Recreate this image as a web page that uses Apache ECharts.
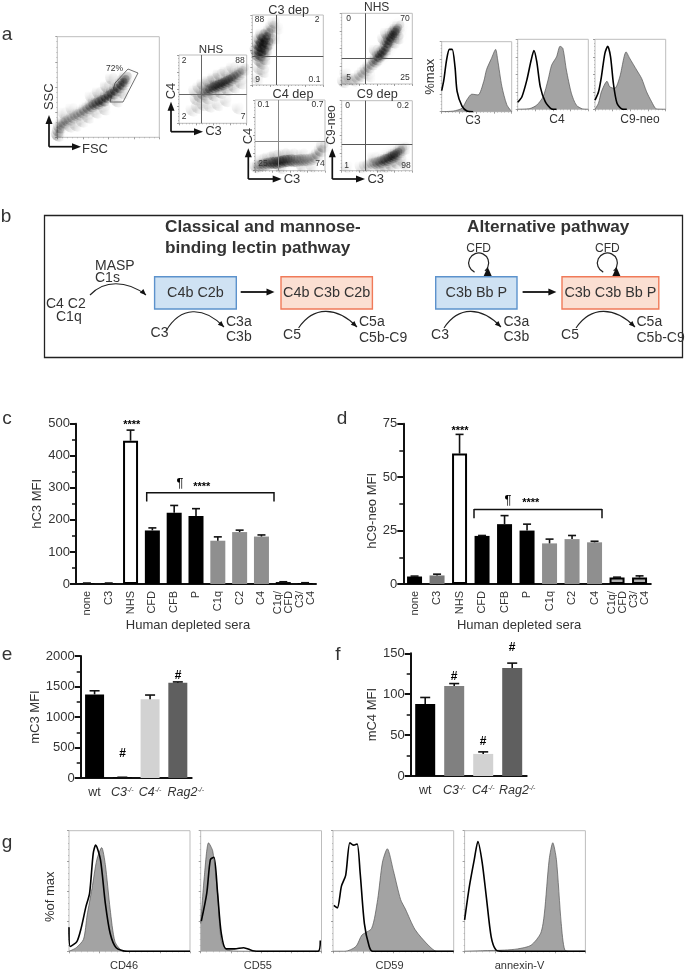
<!DOCTYPE html>
<html><head><meta charset="utf-8">
<style>html,body{margin:0;padding:0;background:#fff}#c{width:685px;height:972px}</style>
<script src="https://cdn.jsdelivr.net/npm/echarts@6/dist/echarts.min.js"></script></head>
<body><div id="c"></div>
<script>
// ---------- DATA ----------
const seraCats = ['none','C3','NHS','CFD','CFB','P','C1q','C2','C4','C1q/\nCFD','C3/\nC4'];
const hC3Values = [2,2,447,167,222,212,135,162,148,6,3];
const hC3Tops   = [3,3,480,175,245,235,147,168,153,7,4];
const hC9Values = [3.5,4,61,22.5,28,25,19,21,19.5,3,3];
const hC9Tops   = [3.7,4.6,70,22.7,32,28,21,22.7,20,3.2,3.8];
const mouseCats = ['wt','C3','C4','Rag2'];
const mC3Values = [1370,10,1290,1560];
const mC3Tops   = [1430,12,1360,1575];
const mC4Values = [88,110,27,132];
const mC4Tops   = [96,113,29.5,138];

// flow-cytometry density: [x%, y%, relative density]
const flowFSC = [[2,4,.5],[3,8,.5],[4,12,.5],[6,15,.4],[8,17,.4],[11,19,.35],[14,20,.35],[17,22,.35],[20,24,.35],[23,25,.4],[26,27,.45],[29,29,.5],[32,31,.6],[35,33,.7],[38,35,.8],[41,36,.9],[44,38,1],[47,39,1],[50,42,1],[53,44,1],[56,46,1],[59,49,1],[62,52,1],[65,55,1],[67,58,1],[69,61,.7],[14,13,.15],[20,14,.15],[26,18,.15],[32,22,.2],[8,26,.1],[16,30,.1],[40,27,.15],[48,30,.15],[35,42,.12],[42,46,.2],[50,52,.25],[55,60,.2],[60,38,.2],[66,46,.2]];
const flowNHS1 = [[28,38,.2],[33,42,.3],[38,46,.4],[42,50,.5],[46,52,.7],[50,54,.85],[54,56,.9],[58,58,1],[62,59,1],[66,61,1],[70,63,1],[74,65,.9],[78,67,.85],[82,70,.7],[86,72,.6],[90,75,.5],[94,78,.4],[98,82,.3],[26,50,.15],[32,55,.2],[38,60,.25],[46,64,.3],[54,68,.3],[62,74,.25],[72,78,.2],[82,84,.15],[44,40,.25],[54,44,.3],[64,48,.3],[74,52,.3],[84,56,.25],[94,62,.2],[22,22,.1],[30,26,.15],[38,30,.15],[48,28,.12],[60,30,.1],[72,36,.1],[90,25,.05]];
const flowC3dep = [[10,45,.6],[13,52,.9],[15,58,1],[17,62,1],[19,66,1],[21,70,.9],[14,46,.9],[18,50,1],[22,54,.8],[24,62,.8],[11,60,.8],[13,68,.7],[16,74,.6],[24,76,.6],[27,80,.45],[30,86,.3],[33,92,.15],[8,52,.5],[28,68,.35],[12,38,.35],[16,34,.3],[20,40,.35],[12,26,.2],[18,22,.2],[10,12,.12],[34,70,.1],[38,84,.08]];
const flowC4dep = [[4,8,.25],[8,10,.35],[12,11,.45],[16,12,.55],[20,13,.65],[24,14,.75],[28,14,.85],[32,14,1],[36,15,1],[40,16,1],[44,17,1],[48,17,.9],[52,18,.75],[56,17,.6],[60,17,.55],[64,18,.5],[68,18,.45],[72,18,.4],[76,18,.35],[80,19,.35],[84,20,.3],[88,22,.3],[92,26,.35],[96,31,.35],[99,37,.35],[12,19,.15],[22,21,.2],[32,24,.25],[44,26,.2],[56,26,.15],[70,26,.12],[70,9,.15],[84,9,.1],[40,7,.15]];
const flowNHS2 = [[5,6,.2],[9,9,.18],[14,10,.15],[20,8,.2],[25,11,.25],[29,15,.3],[33,19,.3],[37,23,.3],[41,27,.35],[45,31,.4],[49,35,.5],[52,38,.7],[55,42,.85],[58,45,1],[61,48,1],[64,52,.9],[66,57,.8],[68,62,.85],[70,66,1],[73,70,1],[76,74,1],[78,77,.9],[80,80,.7],[83,84,.35],[82,68,.35],[76,62,.3],[62,66,.25],[66,74,.25],[50,50,.25],[8,17,.08],[42,14,.08]];
const flowC9dep = [[30,8,.08],[36,10,.15],[41,11,.2],[46,13,.3],[50,14,.4],[54,15,.5],[58,16,.65],[62,18,.8],[66,19,.95],[70,21,1],[74,23,1],[77,25,1],[80,27,.85],[84,30,.6],[87,33,.4],[91,35,.25],[56,9,.2],[64,9,.25],[72,11,.3],[80,14,.25],[86,18,.2],[92,12,.06],[48,22,.08],[10,8,.04]];

// histograms [x%, %max]
const histC3Fill = [[0,0],[17,1],[29,5],[36,17],[43,25],[52,24],[60,43],[64,60],[71,76],[77,89],[80,74],[86,36],[93,10],[100,0]];
const histC3Open = [[0,30],[3,45],[7,74],[11,89],[15,89],[19,64],[22,29],[29,8],[36,1],[45,0]];
const histC4Fill = [[0,0],[17,1],[27,6],[36,18],[43,42],[48,63],[55,75],[60,90],[64,87],[69,56],[76,23],[83,6],[92,.5],[100,0]];
const histC4Open = [[0,10],[6,18],[13,42],[19,70],[23,84],[27,68],[32,32],[39,11],[48,.5],[55,0]];
const histC9Fill = [[0,0],[5,9],[9,25],[17,40],[21,32],[28,30],[35,46],[44,82],[49,73],[59,56],[66,44],[73,25],[80,11],[87,.5],[100,0]];
const histC9Open = [[0,13],[5,25],[9,46],[14,80],[18,90],[22,75],[26,37],[31,9],[38,.5],[45,0]];
const histCD46Fill = [[0,0],[6,3],[12,10],[15,30],[19,52],[23,76],[27,86],[30,72],[34,35],[38,8],[44,.5],[50,0],[100,0]];
const histCD46Open = [[0,20],[1,4],[6.5,8],[10,19],[14,37],[17,48],[20,81],[22,88],[26,76],[30,40],[34,15],[39,3],[48,0],[100,0]];
const histCD55Fill = [[0,23],[3,62],[6.5,90],[10,83],[14,48],[17,9],[22,1],[37,0],[100,0]];
const histCD55Open = [[.5,25],[5,48],[8,76],[11,78],[14,48],[17,15],[21,2],[28,2],[35.5,3],[43,.5],[50,0],[97,0],[99,9]];
const histCD59Fill = [[0,0],[10,0],[19,4],[24,13.5],[32,19],[37,43],[41,74],[45,85],[50,67],[56,43],[60,35],[68,18],[79,5],[86,0],[100,0]];
const histCD59Open = [[.7,38],[3.6,36],[7,54],[10.5,63],[14,90],[17,88],[20,89],[22.5,65],[26,23],[30,4],[33,0],[100,0]];
const histAnnexFill = [[0,0],[15,.5],[33,1],[44,2],[55,5],[63,15],[66,31],[70,76],[73,90],[76,76],[80,23],[83,1],[88,0],[100,0]];
const histAnnexOpen = [[0,26],[4,54],[8,76],[11,91],[14.5,74],[18,45],[22,12],[26,1],[31.5,0],[100,0]];

// ---------- STYLE ----------
const FF = '"Liberation Sans",Arial,sans-serif', TXT = '#333';
const grid=[],xAxis=[],yAxis=[],series=[],G=[];
// stipple texture for the flow plots (drawing style only)
const tileDots=[[1,2],[4,0],[7,3],[10,1],[13,4],[16,2],[19,0],[2,6],[5,5],[8,8],[11,6],[14,9],[17,7],[0,10],[3,9],[6,11],[9,12],[12,10],[15,13],[18,11],[1,14],[4,13],[7,16],[10,15],[13,17],[16,16],[19,14],[2,18],[5,17],[8,19],[11,18],[14,19],[17,18],[6,2],[12,3],[18,5],[3,12],[9,9],[15,6],[0,4],[11,13],[17,15],[5,15],[19,9],[13,12],[7,7]];
const tile=document.createElement('canvas');tile.width=tile.height=20;
(function(){const x=tile.getContext('2d');x.fillStyle='#000';tileDots.forEach(d=>x.fillRect(d[0],d[1],1.2,1.2));})();
function T(text,x,y,size,o){o=o||{};G.push({type:'text',z:50,rotation:o.rot||0,x:x,y:y,style:{text:text,x:0,y:0,fill:o.fill||TXT,align:o.align||'center',verticalAlign:'middle',font:(o.weight?o.weight+' ':'')+size+'px '+FF}});}
function L(x1,y1,x2,y2,w,c){G.push({type:'line',z:40,shape:{x1,y1,x2,y2},style:{stroke:c||'#222',lineWidth:w||1.5}});}
function P(pts,fill,stroke,w){G.push({type:'polygon',z:40,shape:{points:pts},style:{fill:fill||'none',stroke:stroke||null,lineWidth:w||0}});}
function head(x,y,ang,len,hw){const c=Math.cos(ang),s=Math.sin(ang);P([[x,y],[x-len*c+hw*s,y-len*s-hw*c],[x-len*c-hw*s,y-len*s+hw*c]],'#111');}
function A(x1,y1,x2,y2,w,len,hw){len=len||9;hw=hw||3.5;const a=Math.atan2(y2-y1,x2-x1);L(x1,y1,x2-Math.cos(a)*len*.8,y2-Math.sin(a)*len*.8,w||1.7,'#111');head(x2,y2,a,len,hw);}
function curve(x1,y1,x2,y2,peak){const cy=peak;G.push({type:'bezierCurve',z:40,shape:{x1,y1,x2,y2,cpx1:x1+(x2-x1)*.25,cpy1:cy,cpx2:x1+(x2-x1)*.65,cpy2:cy},style:{stroke:'#222',lineWidth:1.1,fill:'none'}});head(x2,y2,.75,6,2.6);}
function loop(cx,cy){G.push({type:'arc',z:40,shape:{cx,cy,r:10,startAngle:2.0,endAngle:.9,clockwise:true},style:{stroke:'#222',lineWidth:1.2,fill:'none'}});P([[cx+5,cy+13],[cx+13,cy+13],[cx+9,cy+4]],'#111');}

function barPanel(l,t,w,h,cats,vals,tops,colors,max,iv,barW,name,gap,capW,opt){
  opt=opt||{};const i=grid.length;
  grid.push({left:l,top:t,width:w,height:h});
  const lineSt={lineStyle:{color:'#111',width:2}};
  xAxis.push({gridIndex:i,type:'category',data:cats,axisLine:lineSt,
    axisTick:{alignWithLabel:true,length:5,lineStyle:{color:'#111',width:1.5}},
    axisLabel:Object.assign({interval:0,fontFamily:FF,color:TXT,fontSize:11,margin:7,lineHeight:11},opt.xl||{}),
    name:opt.xname||'',nameLocation:'middle',nameGap:34,nameTextStyle:{fontFamily:FF,fontSize:13,color:TXT,padding:[0,16,0,0]}});
  yAxis.push({gridIndex:i,type:'value',min:0,max:max,interval:iv,splitLine:{show:false},axisLine:Object.assign({show:true,onZero:false},lineSt),
    axisTick:{show:true,length:6,lineStyle:{color:'#111',width:2}},minorTick:{show:true,splitNumber:2,length:4,lineStyle:{color:'#111',width:1.5}},
    axisLabel:{fontFamily:FF,color:TXT,fontSize:13,margin:6,formatter:v=>String(v)},
    name:name,nameLocation:'middle',nameGap:gap,nameTextStyle:{fontFamily:FF,fontSize:13,color:TXT,padding:opt.np||0}});
  series.push({type:'bar',xAxisIndex:i,yAxisIndex:i,barWidth:barW,animation:false,
    data:vals.map((v,k)=>({value:v,itemStyle:{color:colors[k].f||colors[k],borderColor:colors[k].b||colors[k],borderWidth:colors[k].b?2:0}}))});
  series.push({type:'custom',xAxisIndex:i,yAxisIndex:i,animation:false,z:5,silent:true,
    data:tops.map((tp,k)=>[k,vals[k],tp]),encode:{x:0,y:2},
    renderItem:(p,api)=>{const a=api.coord([api.value(0),api.value(1)]),b=api.coord([api.value(0),api.value(2)]);
      const st={stroke:'#111',lineWidth:1.6};
      return {type:'group',children:[{type:'line',shape:{x1:a[0],y1:a[1],x2:b[0],y2:b[1]},style:st},{type:'line',shape:{x1:a[0]-capW,y1:b[1],x2:a[0]+capW,y2:b[1]},style:st}]};}});
}
function flowAxes(i,l,t,w,h){
  grid.push({left:l,top:t,width:w,height:h,show:true,borderColor:'#bdbdbd',borderWidth:1,backgroundColor:'#fff'});
  const ax={gridIndex:i,type:'value',min:0,max:100,interval:25,splitLine:{show:false},axisLabel:{show:false},
    axisLine:{show:false,onZero:false},axisTick:{show:true,length:2,lineStyle:{color:'#777',width:.7}},
    minorTick:{show:true,splitNumber:5,length:1,lineStyle:{color:'#999',width:.6}},minorSplitLine:{show:false}};
  xAxis.push(Object.assign({},ax));yAxis.push(Object.assign({},ax));
}
function flowPanel(l,t,w,h,pts,qx,qy,qc){
  const i=grid.length;flowAxes(i,l,t,w,h);
  // soft density underlay
  series.push({type:'scatter',xAxisIndex:i,yAxisIndex:i,animation:false,silent:true,symbolSize:8,clip:true,
    data:pts.map(p=>({value:[p[0],p[1]],itemStyle:{color:'#000',opacity:p[2]*.16,shadowBlur:10,shadowColor:'rgba(0,0,0,.6)'}}))});
  // stippled dots
  series.push({type:'scatter',xAxisIndex:i,yAxisIndex:i,animation:false,silent:true,symbolSize:17,clip:true,
    data:pts.map(p=>({value:[p[0],p[1]],itemStyle:{color:{image:tile,repeat:'repeat'},opacity:Math.min(1,p[2]*.45+.08)}})),
    markLine: qx==null?undefined:{silent:true,symbol:'none',label:{show:false},animation:false,
      lineStyle:{color:qc||'#555',width:1,type:'solid'},data:[{xAxis:qx},{yAxis:qy}]}});
}
function histPanel(l,t,w,h,fill,open){
  const i=grid.length;flowAxes(i,l,t,w,h);
  series.push({type:'line',xAxisIndex:i,yAxisIndex:i,animation:false,showSymbol:false,silent:true,data:fill,smooth:.25,
    lineStyle:{color:'#555',width:.7},areaStyle:{color:'#a3a3a3',opacity:1}});
  series.push({type:'line',xAxisIndex:i,yAxisIndex:i,animation:false,showSymbol:false,silent:true,data:open,smooth:.25,
    lineStyle:{color:'#000',width:1.6}});
}

// ---------- PANEL a ----------
T('a',7,35,19);
flowPanel(57.3,36.7,102,100.6,flowFSC);
P([[128,69],[138,73],[123,102],[110,102],[115,83]],null,'#333',.7);
T('72%',114.5,68.5,8.5);
T('SSC',49,96.7,13,{rot:Math.PI/2});T('FSC',95,149,13);
A(49,146.7,49,115);A(49,146.7,81,146.7);

flowPanel(179,55,67.7,68.3,flowNHS1,33,42,'#666');
T('NHS',211,50,11.5);T('2',184,60.5,8.5);T('88',240,60.5,8.5);T('2',184,117,8.5);T('7',243,117,8.5);
T('C4',171,91,13,{rot:Math.PI/2});T('C3',213.5,131.7,13);
A(171,131.7,171,101.7);A(171,131.7,203,131.7);

flowPanel(252.3,15,71,70,flowC3dep,34,41,'#555');
T('C3 dep',288.7,10.5,12.7);T('88',259.5,20,8.5);T('2',317,20,8.5);T('9',257.5,79.5,8.5);T('0.1',314.5,80,8.5);

flowPanel(255,100,70,70.7,flowC4dep,33,42,'#888');
T('C4 dep',293,94.3,12.7);T('0.1',263.5,105,8.5);T('0.7',317.5,104.5,8.5);T('25',263,164,8.5);T('74',320,164,8.5);
T('C4',248,136,13,{rot:Math.PI/2});T('C3',292,179,13);
A(248.3,179,248.3,148.3);A(248.3,179,281.7,179);

flowPanel(341.7,13.3,70.6,70.7,flowNHS2,34,37,'#555');
T('NHS',376.7,7.5,12);T('0',348.5,19,8.5);T('70',405,19,8.5);T('5',348.5,78,8.5);T('25',405,78,8.5);

flowPanel(341.7,100.7,70.6,70,flowC9dep,34,38,'#555');
T('C9 dep',377.3,94.3,12.7);T('0',347.5,106,8.5);T('0.2',403,106,8.5);T('1',346.5,165.5,8.5);T('98',406,165.5,8.5);
T('C9-neo',332,125,12,{rot:Math.PI/2});T('C3',375.7,179,13);
A(332.3,179,332.3,148.3);A(332.3,179,365,179);

histPanel(441.7,41.7,70,70,histC3Fill,histC3Open);
histPanel(517.7,39.3,70.6,70,histC4Fill,histC4Open);
histPanel(595,39.3,70.7,70,histC9Fill,histC9Open);
T('%max',430,76.7,13,{rot:Math.PI/2});T('C3',473,121,12);T('C4',557,120,12);T('C9-neo',640,120,12);

// ---------- PANEL b ----------
T('b',6,217,19);
G.push({type:'rect',z:30,shape:{x:44.5,y:215.5,width:638,height:142},style:{fill:'none',stroke:'#222',lineWidth:1.3}});
T('Classical and mannose-',165,227,17.2,{align:'left',weight:'bold'});
T('binding lectin pathway',165,248,17.2,{align:'left',weight:'bold'});
T('Alternative pathway',467,227,17.2,{align:'left',weight:'bold'});
function box(x,w,fill,stroke,t){G.push({type:'rect',z:31,shape:{x:x,y:276.7,width:w,height:32.3},style:{fill:fill,stroke:stroke,lineWidth:1.4}});T(t,x+w/2,292.8,14.4);}
const blue=['#cfe2f3','#5c92cc'],red=['#fbdfd2','#f07a59'];
box(154.6,81.7,blue[0],blue[1],'C4b C2b');box(281,91.4,red[0],red[1],'C4b C3b C2b');
box(435.7,81.3,blue[0],blue[1],'C3b Bb P');box(562,96.8,red[0],red[1],'C3b C3b Bb P');
A(240.7,292,274.5,292,1.8,8,3.5);A(522.6,292,556.4,292,1.8,8,3.5);
T('MASP',95,266,14,{align:'left'});T('C1s',95,278.5,14,{align:'left'});
T('C4 C2',46,303.7,14,{align:'left'});T('C1q',56,317.5,14,{align:'left'});
curve(90,295,146,295,280);
T('C3',159.5,333.5,14);curve(166,331,224,327,306);T('C3a',226,322.3,14,{align:'left'});T('C3b',226,337,14,{align:'left'});
T('C5',292,335,14);curve(298.6,328,357,327,306);T('C5a',359,322.3,14,{align:'left'});T('C5b-C9',359,338,14,{align:'left'});
T('C3',440,335,14);curve(444,328,501,327,306);T('C3a',503.5,322.3,14,{align:'left'});T('C3b',503.5,337,14,{align:'left'});
T('C5',570,335,14);curve(576,328,635,327,306);T('C5a',636.5,322.3,14,{align:'left'});T('C5b-C9',636.5,338,14,{align:'left'});
T('CFD',478.7,248.3,12);loop(478.7,263);T('CFD',607.4,248.3,12);loop(607.4,263);

// ---------- PANEL c, d ----------
const K='#000',Gy='#8f8f8f';
const seraCol=[K,K,{f:'#fff',b:'#000'},K,K,K,Gy,Gy,Gy,K,K];
barPanel(76,423.7,240,160.3,seraCats,hC3Values,hC3Tops,seraCol,500,100,15,'hC3 MFI',32,4,{xname:'Human depleted sera',xl:{rotate:90}});
const seraCol2=[K,'#777',{f:'#fff',b:'#000'},K,K,K,Gy,Gy,Gy,{f:'#b0b0b0',b:'#000'},{f:'#b0b0b0',b:'#000'}];
barPanel(403.3,423.7,247.5,160.3,seraCats,hC9Values,hC9Tops,seraCol2,75,25,15,'hC9-neo MFI',23,4,{xname:'Human depleted sera',np:[0,14,0,0],xl:{rotate:90}});
T('c',7,419,19);T('d',342,419,19);
T('****',131.7,425,11,{weight:'bold',fill:'#000'});T('****',460,431,11,{weight:'bold',fill:'#000'});
T('¶',180,483,13,{fill:'#000'});T('****',201.7,487,11,{weight:'bold',fill:'#000'});
T('¶',508,500.7,13,{fill:'#000'});T('****',530.7,503,11,{weight:'bold',fill:'#000'});
L(146.7,492.7,274,492.7,1.5,'#111');L(146.7,492,146.7,501.5,1.5,'#111');L(274,492,274,501.5,1.5,'#111');
L(474,509.5,602,509.5,1.5,'#111');L(474,509,474,518.3,1.5,'#111');L(602,509,602,518.3,1.5,'#111');

// ---------- PANEL e, f ----------
function geneLabel(pad){return {fontSize:12.5,margin:9,formatter:v=>v==='wt'?v:(v==='Rag2'?'{p|}':'')+'{i|'+v+'}{s|-/-}',
  rich:{p:{width:pad},i:{fontStyle:'italic',fontFamily:FF,fontSize:12.5,color:TXT},s:{fontStyle:'italic',fontFamily:FF,fontSize:7,color:TXT,verticalAlign:'top',padding:[0,0,5,0]}}};}
barPanel(80.7,656,111,122,mouseCats,mC3Values,mC3Tops,[K,K,'#d2d2d2','#5f5f5f'],2000,500,19,'mC3 MFI',32,5,{xl:geneLabel(16)});
barPanel(410.7,653.3,116,122.7,mouseCats,mC4Values,mC4Tops,[K,'#808080','#d2d2d2','#5f5f5f'],150,50,20,'mC4 MFI',27,5,{xl:geneLabel(10)});
T('e',7,655,19);T('f',338,655,19);
T('#',122.7,754,12,{weight:'bold',fill:'#000'});T('#',178,676,12,{weight:'bold',fill:'#000'});
T('#',454,677,12,{weight:'bold',fill:'#000'});T('#',483,742,12,{weight:'bold',fill:'#000'});T('#',512,648,12,{weight:'bold',fill:'#000'});

// ---------- PANEL g ----------
T('g',7,843,19);
histPanel(69,830.7,121,120.6,histCD46Fill,histCD46Open);
histPanel(200.7,830.7,120.8,120.6,histCD55Fill,histCD55Open);
histPanel(333,830.7,120.7,120.6,histCD59Fill,histCD59Open);
histPanel(464.6,830.7,120.8,120.6,histAnnexFill,histAnnexOpen);
T('%of max',50.5,896.7,13,{rot:Math.PI/2});
T('CD46',124,965.7,11);T('CD55',257.8,965.7,11);T('CD59',389.5,965.7,11);T('annexin-V',519.5,965.7,11);

const chart=echarts.init(document.getElementById('c'),null,{renderer:'canvas'});
chart.setOption({animation:false,backgroundColor:'#fff',grid,xAxis,yAxis,series,graphic:{elements:G}});
</script></body></html>
